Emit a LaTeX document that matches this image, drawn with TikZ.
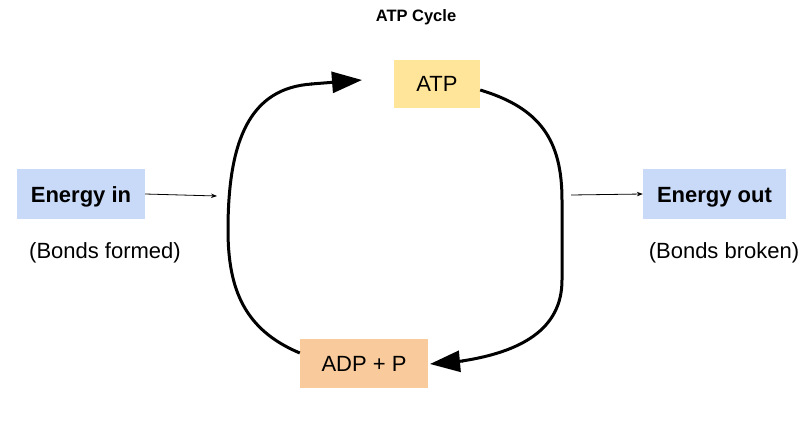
\documentclass[tikz,border=0pt]{standalone}
\usepackage{fontspec}
\setmainfont{Liberation Sans}
\usetikzlibrary{arrows.meta}
\definecolor{atpc}{HTML}{FFE599}
\definecolor{adpc}{HTML}{F9CB9C}
\definecolor{enc}{HTML}{C9DAF8}
\tikzset{
  box/.style={inner sep=0pt, anchor=center, text height=16pt, text depth=0pt},
  big/.style={font=\fontsize{22}{26}\selectfont},
  bigbold/.style={font=\bfseries\fontsize{22}{26}\selectfont},
  thin arrow/.style={line width=0.8pt, -{Stealth[length=6pt,width=4.5pt]}},
  cycle arrow/.style={line width=3pt, -{Triangle[length=30pt,width=21pt]}},
  cycle line/.style={line width=3pt}
}
\begin{document}
\begin{tikzpicture}[x=1pt,y=-1pt]
\useasboundingbox (0,0) rectangle (809,442);
\node[font=\bfseries\fontsize{16.5}{19}\selectfont] (title) at (416,17) {ATP Cycle};
\node[box, fill=atpc, minimum width=86pt, minimum height=48pt, big] (atp) at (437,83.5) {ATP};
\node[box, fill=adpc, minimum width=128pt, minimum height=49pt, big] (adp) at (364,363.5) {ADP + P};
\node[box, fill=enc, minimum width=128pt, minimum height=50pt, bigbold] (ein) at (81,194) {Energy in};
\node[box, fill=enc, minimum width=143pt, minimum height=50pt, bigbold] (eout) at (714.5,194) {Energy out};
\node[big] (bf) at (105,253) {(Bonds formed)};
\node[big] (bb) at (724,253) {(Bonds broken)};
\coordinate (lin) at (217,196);
\coordinate (rout) at (571,195);
\coordinate (ltip) at (362,80);
\coordinate (rtip) at (430,364);
\draw[thin arrow] (ein.east) -- (lin);
\draw[thin arrow] (rout) -- (eout.west);
\draw[cycle line] (adp.west |- 0,353) .. controls (245,330) and (228,290) .. (228,230)
  .. controls (228,140) and (250,88) .. (312,84);
\draw[cycle arrow] (311,84) -- (ltip);
\draw[cycle line] (atp.east |- 0,90) .. controls (540,108) and (562,140) .. (562,200) -- (562,280)
  .. controls (562,330) and (520,352) .. (462,361);
\draw[cycle arrow] (463,361) -- (rtip);
\end{tikzpicture}
\end{document}
